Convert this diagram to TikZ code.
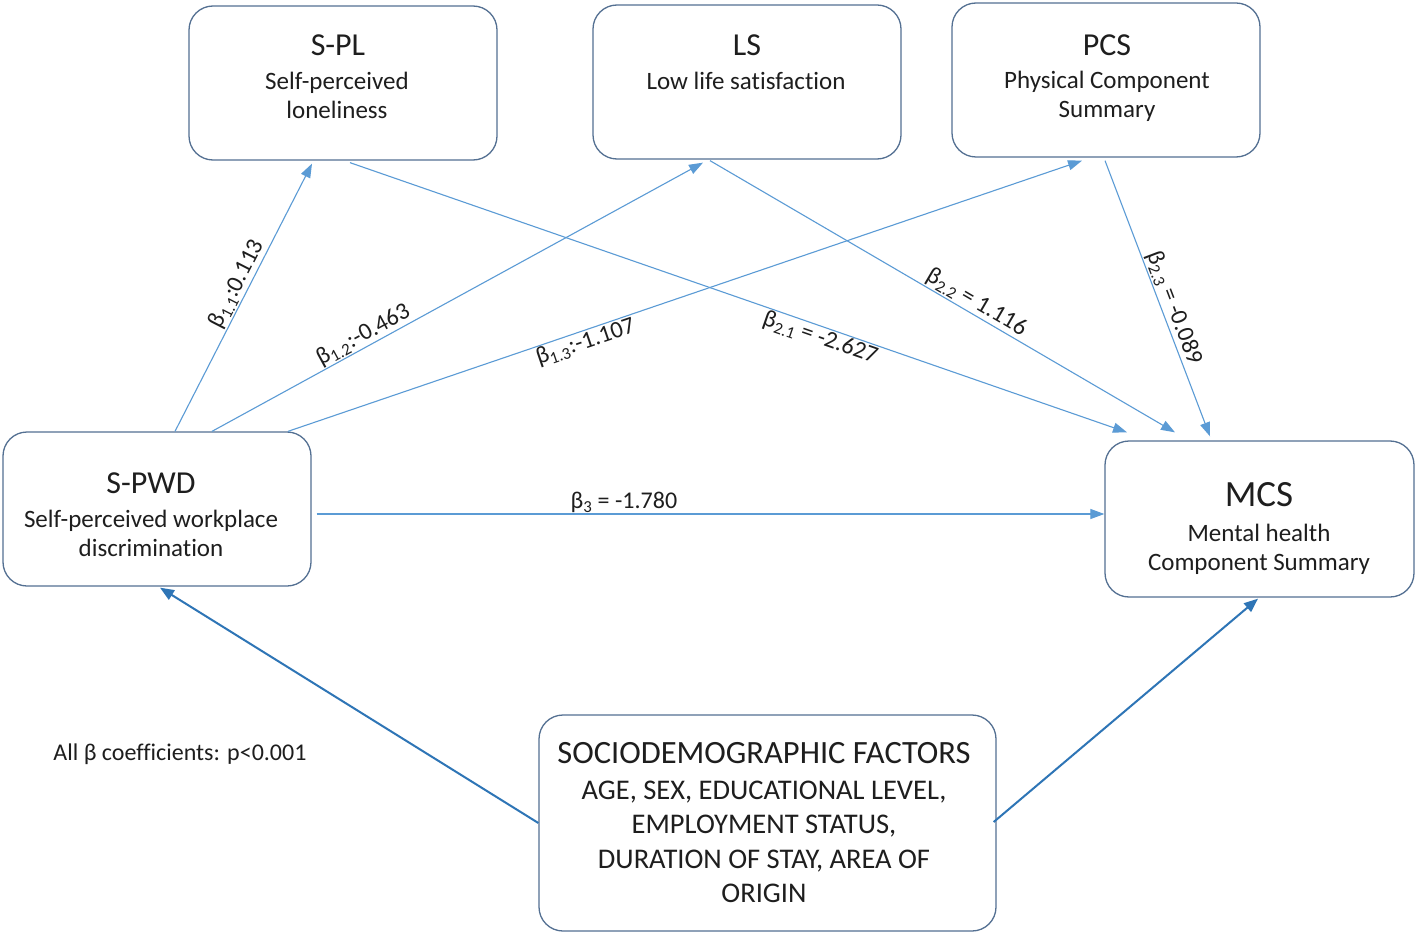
\documentclass[tikz,border=0pt]{standalone}
\usepackage{fontspec}
\setmainfont{Carlito}[Ligatures={NoCommon}]
\usetikzlibrary{arrows.meta,calc}
\definecolor{boxc}{RGB}{84,112,146}
\definecolor{arrc}{RGB}{91,155,213}
\definecolor{darrc}{RGB}{46,117,182}
\definecolor{txtc}{RGB}{30,30,30}
\begin{document}
\begin{tikzpicture}[x=1pt,y=-1pt,
  box/.style={draw=boxc, line width=1.3pt, rounded corners=24pt, inner sep=0pt},
  arr/.style={draw=arrc, line width=1.1pt, -{Triangle[length=14pt,width=10pt]}},
  darr/.style={draw=darrc, line width=2pt, -{Triangle[length=14pt,width=11pt]}},
  lbl/.style={font=\fontsize{24}{28}\selectfont, text=txtc, inner sep=1pt},
  ttl/.style={font=\fontsize{32}{36}\selectfont, text=txtc, inner sep=0pt},
  sub/.style={font=\fontsize{25}{29}\selectfont, text=txtc, align=center, inner sep=0pt}]
\useasboundingbox (0,0) rectangle (1418,936);
\fill[white] (0,0) rectangle (1418,936);
% boxes
\node[box, minimum width=308pt, minimum height=154pt] (spl) at (343,83) {};
\node[box, minimum width=308pt, minimum height=154pt] (ls) at (747,82) {};
\node[box, minimum width=308pt, minimum height=154pt] (pcs) at (1106,80) {};
\node[box, minimum width=308pt, minimum height=154pt] (spwd) at (157,509) {};
\node[box, minimum width=309pt, minimum height=156pt] (mcs) at (1259.5,519) {};
\node[box, minimum width=457pt, minimum height=216pt] (socio) at (767.5,823) {};
% texts
\node[ttl] (spl-t) at (338,45) {S-PL};
\node[sub] (spl-s) at (337,95.5) {Self-perceived\\loneliness};
\node[ttl] (ls-t) at (747,45) {LS};
\node[sub] (ls-s) at (746,81) {Low life satisfaction};
\node[ttl] (pcs-t) at (1107,45) {PCS};
\node[sub] (pcs-s) at (1107,96) {Physical Component\\Summary};
\node[ttl] (spwd-t) at (151,483) {S-PWD};
\node[sub] (spwd-s) at (151,533.5) {Self-perceived workplace\\discrimination};
\node[ttl, font=\fontsize{37}{40}\selectfont] (mcs-t) at (1259,495) {MCS};
\node[sub] (mcs-s) at (1259,549) {Mental health\\Component Summary};
\node[sub, font=\fontsize{32.5}{35}\selectfont] (socio-t) at (764,753) {SOCIODEMOGRAPHIC FACTORS};
\node[sub, font=\fontsize{28.5}{34.5}\selectfont] (socio-s) at (764,842) {AGE, SEX, EDUCATIONAL LEVEL,\\EMPLOYMENT STATUS,\\DURATION OF STAY, AREA OF\\ORIGIN};
\node[lbl] (note) at (180,754) {All β coefficients: p<0.001};
% connectors
\draw[arr] ($(spwd.north)+(18,0)$) -- node[lbl, sloped, above, pos=0.53] (b11) {β\textsubscript{1.1}:0.113} ($(spl.south)+(-31,3)$);
\draw[arr] ($(spwd.north)+(55,0)$) -- node[lbl, sloped, above, pos=0.32] (b12) {β\textsubscript{1.2}:-0.463} ($(ls.south)+(-44,3)$);
\draw[arr] ($(spwd.north)+(131,0)$) -- node[lbl, sloped, below, pos=0.37] (b13) {β\textsubscript{1.3}:-1.107} ($(pcs.south)+(-24,3)$);
\draw[arr] ($(spl.south)+(7,2)$) -- node[lbl, sloped, below, pos=0.61] (b21) {β\textsubscript{2.1} = -2.627} ($(mcs.north)+(-132.5,-8)$);
\draw[arr] ($(ls.south)+(-37,1)$) -- node[lbl, sloped, above, pos=0.56] (b22) {β\textsubscript{2.2} = 1.116} ($(mcs.north)+(-84.5,-8)$);
\draw[arr] ($(pcs.south)+(-1,3)$) -- node[lbl, sloped, above, pos=0.55] (b23) {β\textsubscript{2.3} = -0.089} ($(mcs.north)+(-49.5,-4)$);
\draw[arr] ($(spwd.east)+(5,5)$) -- node[lbl, above, pos=0.39] (b3) {β\textsubscript{3} = -1.780} ($(mcs.west)+(0,-5)$);
\draw[darr] (socio.west) -- ($(spwd.south)+(3,1)$);
\draw[darr] ($(socio.east)+(-3,-1)$) -- ($(mcs.south)+(-1.5,1)$);
\end{tikzpicture}
\end{document}
